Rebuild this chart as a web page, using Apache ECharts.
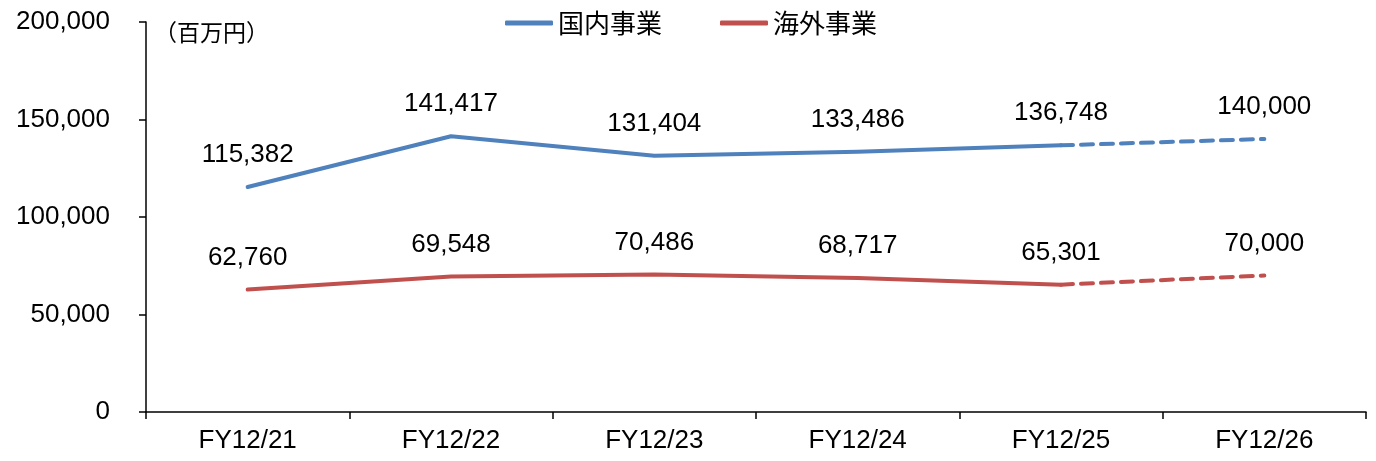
<!DOCTYPE html>
<html><head><meta charset="utf-8">
<script src="https://cdn.jsdelivr.net/npm/echarts@6/dist/echarts.min.js"></script>
<style>html,body{margin:0;padding:0;background:#fff}#c{width:1376px;height:461px}</style>
</head><body><div id="c"></div>
<script>
const categories = ['FY12/21','FY12/22','FY12/23','FY12/24','FY12/25','FY12/26'];
const domestic = [115382, 141417, 131404, 133486, 136748, 140000];
const overseas = [62760, 69548, 70486, 68717, 65301, 70000];
const seriesNames = ['国内事業','海外事業'];
const actualCount = 5;
const yTicks = [0, 50000, 100000, 150000, 200000];

const FONT = '"Liberation Sans", Arial, "Noto Sans CJK JP", sans-serif';
const colors = ['#4F81BD', '#C0504D'];

function actualPart(arr){ return arr.map((v,i)=> i < actualCount ? v : null); }
function forecastPart(arr){ return arr.map((v,i)=> i >= actualCount-1 ? v : null); }

function makeSeries(name, arr, color){
  const label = {show:true, position:'top', distance:19, color:'#000', fontSize:26, fontFamily:FONT,
    formatter: p => p.value == null ? '' : p.value.toLocaleString('en-US')};
  return [
    {name, type:'line', data:actualPart(arr), symbol:'circle', symbolSize:0.1, showSymbol:true, smooth:false,
     lineStyle:{color, width:4, cap:'round', join:'round'}, itemStyle:{color},
     label, z:3},
    {name:name+'_f', type:'line', data:forecastPart(arr), symbol:'circle', symbolSize:0.1, showSymbol:true, smooth:false,
     lineStyle:{color, width:4, type:[12,8], cap:'round'}, itemStyle:{color},
     label:{...label, formatter: p => (p.dataIndex === arr.length-1 ? p.value.toLocaleString('en-US') : '')}, z:2}
  ];
}

const chart = echarts.init(document.getElementById('c'), null, {renderer:'canvas'});
chart.setOption({
  animation:false,
  backgroundColor:'#fff',
  grid:{left:146, right:10, top:22, bottom:49, containLabel:false},
  legend:{data:seriesNames, left:500, top:5, icon:'roundRect', itemWidth:48, itemHeight:5, itemGap:58,
    textStyle:{fontSize:26, color:'#000', fontFamily:'"Noto Sans CJK JP", sans-serif'}},
  graphic:[{type:'text', left:154, top:21, style:{text:'（百万円）', fontSize:23, fill:'#000',
    fontFamily:'"Noto Sans CJK JP", sans-serif'}}],
  xAxis:{type:'category', data:categories, boundaryGap:true,
    axisLine:{lineStyle:{color:'#000', width:1.5}},
    axisTick:{show:true, length:7, lineStyle:{color:'#000', width:1.5}},
    axisLabel:{fontSize:26, color:'#000', fontFamily:FONT, margin:16}},
  yAxis:{type:'value', min:yTicks[0], max:yTicks[yTicks.length-1], interval:50000,
    axisLine:{show:true, lineStyle:{color:'#000', width:1.5}},
    axisTick:{show:true, length:7, lineStyle:{color:'#000', width:1.5}},
    splitLine:{show:false},
    axisLabel:{fontSize:26, color:'#000', fontFamily:FONT, margin:36,
      formatter: v => v.toLocaleString('en-US')}},
  series:[...makeSeries(seriesNames[0], domestic, colors[0]), ...makeSeries(seriesNames[1], overseas, colors[1])]
});
</script></body></html>
